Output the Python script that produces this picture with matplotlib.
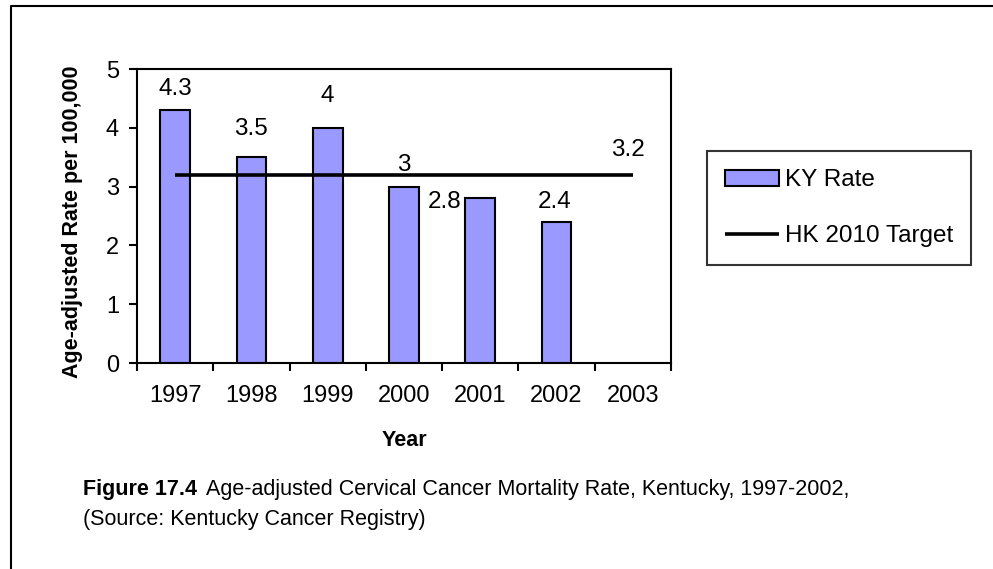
import matplotlib
matplotlib.use("Agg")
import matplotlib.pyplot as plt
from matplotlib.lines import Line2D
import numpy as np

plt.rcParams['font.family'] = ['Liberation Sans', 'DejaVu Sans']

years = ['1997', '1998', '1999', '2000', '2001', '2002', '2003']
ky_rate = [4.3, 3.5, 4.0, 3.0, 2.8, 2.4]
ky_labels = ['4.3', '3.5', '4', '3', '2.8', '2.4']
hk_target = [3.2, 3.2, 3.2, 3.2, 3.2, 3.2, 3.2]
hk_label = '3.2'
y_ticks = [0, 1, 2, 3, 4, 5]

# label offsets in pixels (dx, dy above bar top) - layout only
bar_label_offsets = [(0, 10), (0, 17), (0, 21), (0, 11), (-36, -15), (-2, 9)]

W, H = 993, 569
fig = plt.figure(figsize=(W / 100, H / 100), dpi=100)
fig.patch.set_facecolor('white')

ax = fig.add_axes([137 / W, 1 - 363 / H, (671 - 137) / W, (363 - 69) / H])

x = np.arange(len(years))
bars = ax.bar(x[:len(ky_rate)], ky_rate, width=0.39, color='#9999FF', edgecolor='black',
              linewidth=1.5, label='KY Rate', zorder=2)
line, = ax.plot(x, hk_target, color='black', linewidth=2.6, label='HK 2010 Target',
                zorder=3, solid_capstyle='butt')

px2pt = 72 / 100
for xi, v, lab, (dx, dy) in zip(x, ky_rate, ky_labels, bar_label_offsets):
    ax.annotate(lab, (xi, v), xytext=(dx * px2pt, dy * px2pt), textcoords='offset points',
                ha='center', va='bottom', fontsize=17.5)
ax.annotate(hk_label, (x[-1], hk_target[-1]), xytext=(-5 * px2pt, 14 * px2pt),
            textcoords='offset points', ha='center', va='bottom', fontsize=17.5)

ax.set_xlim(-0.5, len(years) - 0.5)
ax.set_ylim(0, 5)
ax.set_yticks(y_ticks)
ax.set_yticklabels([str(t) for t in y_ticks])
ax.set_xticks(x)
ax.set_xticklabels(years)
ax.set_xticks(np.arange(-0.5, len(years)), minor=True)
ax.tick_params(axis='x', which='major', length=0, pad=16, labelsize=17)
ax.tick_params(axis='x', which='minor', length=6, width=1.5, direction='out')
ax.tick_params(axis='y', which='major', length=6, width=1.5, direction='out', pad=7,
               labelsize=17)
for s in ax.spines.values():
    s.set_linewidth(1.5)
    s.set_color('black')

ax.set_ylabel('Age-adjusted Rate per 100,000', fontsize=15.5, fontweight='bold')
ax.yaxis.set_label_coords((83 - 137) / (671 - 137), 0.48)

fig.text((137 + 671) / 2 / W, 1 - 441 / H, 'Year', ha='center', va='center',
         fontsize=15.5, fontweight='bold')

leg = ax.legend(handles=[bars, line], loc='upper left',
                bbox_to_anchor=(707 / W, 1 - 151 / H),
                bbox_transform=fig.transFigure, frameon=True, fancybox=False,
                fontsize=17.5, handlelength=2.2, handleheight=0.65, handletextpad=0.25,
                borderpad=0.75, labelspacing=1.4, borderaxespad=0)
leg.get_frame().set_edgecolor('black')
leg.get_frame().set_linewidth(1.5)

# caption
t1 = fig.text(83 / W, 1 - 490 / H, 'Figure 17.4', ha='left', va='center',
              fontsize=15.5, fontweight='bold')
renderer = fig.canvas.get_renderer()
bb = t1.get_window_extent(renderer=renderer)
fig.text((bb.x1 + 9) / W, 1 - 490 / H,
         'Age-adjusted Cervical Cancer Mortality Rate, Kentucky, 1997-2002,',
         ha='left', va='center', fontsize=15.5)
fig.text(83 / W, 1 - 519 / H, '(Source: Kentucky Cancer Registry)', ha='left',
         va='center', fontsize=15.5)

# outer frame
fig.add_artist(Line2D([11 / W, 11 / W, 1.0], [0, 1 - 5.5 / H, 1 - 5.5 / H],
                      transform=fig.transFigure, color='black', linewidth=1.5))

fig.savefig('out.png', dpi=100, facecolor='white')
